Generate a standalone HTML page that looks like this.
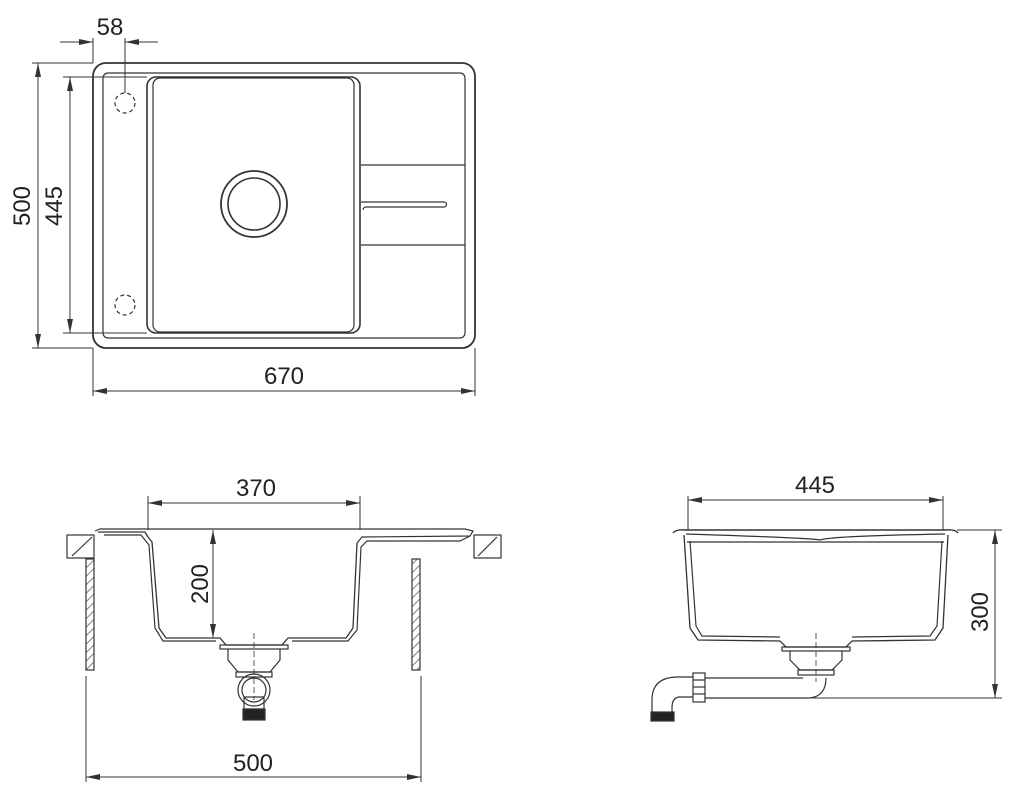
<!DOCTYPE html>
<html><head><meta charset="utf-8"><style>
html,body{margin:0;padding:0;background:#fff;}
svg{display:block;}
text{font-family:"Liberation Sans",sans-serif;fill:#222;font-size:24px;text-anchor:middle;}
</style></head><body>
<svg width="1012" height="796" viewBox="0 0 1012 796" xmlns="http://www.w3.org/2000/svg">
<defs>
<marker id="a" markerWidth="14" markerHeight="8" refX="14" refY="4" orient="auto-start-reverse" markerUnits="userSpaceOnUse"><path d="M0,1 L14,4 L0,7 Z" fill="#333"/></marker>
<pattern id="h" width="6" height="6" patternUnits="userSpaceOnUse" patternTransform="rotate(45)"><line x1="0" y1="0" x2="0" y2="6" stroke="#555" stroke-width="1.5"/></pattern>
</defs>
<g fill="none" stroke="#333" stroke-width="1.2">
<rect x="93" y="63" width="382" height="285" rx="13" stroke-width="1.8"/>
<rect x="103" y="73" width="362" height="265" rx="5"/>
<rect x="147" y="77" width="213" height="256" rx="9" stroke-width="1.6"/>
<rect x="153" y="78" width="201" height="254" rx="7"/>
<circle cx="254" cy="204" r="33" stroke-width="1.8"/>
<circle cx="254" cy="204" r="26" stroke-width="1.6"/>
<line x1="361" y1="165" x2="465" y2="165"/>
<line x1="361" y1="245" x2="465" y2="245"/>
<path d="M361,202 H444 a2.5,2.5 0 0 1 0,5 H366 a3,3 0 0 0 -3,3"/>
<circle cx="125" cy="103" r="10" stroke-dasharray="4,3"/>
<circle cx="125" cy="305" r="10" stroke-dasharray="4,3"/>
<g stroke-width="1">
<line x1="60" y1="42" x2="93" y2="42" marker-end="url(#a)"/>
<line x1="158" y1="42" x2="125" y2="42" marker-end="url(#a)"/>
<line x1="93" y1="38" x2="93" y2="63"/>
<line x1="125" y1="38" x2="125" y2="93"/>
<line x1="38" y1="63" x2="38" y2="348" marker-start="url(#a)" marker-end="url(#a)"/>
<line x1="70" y1="77" x2="70" y2="333" marker-start="url(#a)" marker-end="url(#a)"/>
<line x1="32" y1="63" x2="93" y2="63"/>
<line x1="32" y1="348" x2="93" y2="348"/>
<line x1="63" y1="77" x2="147" y2="77"/>
<line x1="63" y1="333" x2="147" y2="333"/>
<line x1="93" y1="348" x2="93" y2="396"/>
<line x1="475" y1="348" x2="475" y2="396"/>
<line x1="93" y1="391" x2="475" y2="391" marker-start="url(#a)" marker-end="url(#a)"/>
</g>
<g stroke-width="1">
<line x1="148" y1="496" x2="148" y2="530"/>
<line x1="360" y1="496" x2="360" y2="530"/>
<line x1="148" y1="503" x2="360" y2="503" marker-start="url(#a)" marker-end="url(#a)"/>
<line x1="213" y1="530" x2="213" y2="638" marker-start="url(#a)" marker-end="url(#a)"/>
<line x1="86" y1="676" x2="86" y2="782"/>
<line x1="421" y1="676" x2="421" y2="782"/>
<line x1="86" y1="777" x2="421" y2="777" marker-start="url(#a)" marker-end="url(#a)"/>
</g>
<rect x="67" y="535" width="27" height="23"/>
<line x1="72" y1="556" x2="92" y2="537"/>
<rect x="474" y="535" width="27" height="23"/>
<line x1="478" y1="556" x2="497" y2="537"/>
<rect x="86" y="559" width="8" height="111" fill="url(#h)"/>
<rect x="412" y="559" width="8" height="111" fill="url(#h)"/>
<path d="M95,531 L100,529 H465 L473,531 L470,536 L362,537 L357,543"/>
<path d="M98,532 H145 L148,537 L152,542 L159,628 L166,638 L220,638 L226,645 L282,645 L288,638 L346,638 L353,628 L357,543" stroke-width="1.3"/>
<path d="M104,535 H141 L145,540 L149,545 L155,628 L163,641 L216,641"/>
<path d="M292,641 L348,641 L357,630 L361,547 L367,541 L460,541 L470,536"/>
<rect x="220" y="645" width="68" height="4"/>
<path d="M228,649 V660 L238,672 H270 L280,660 V649"/>
<rect x="236" y="672" width="36" height="5"/>
<circle cx="254" cy="690" r="16"/>
<circle cx="254" cy="690" r="12"/>
<rect x="244" y="697" width="20" height="12"/>
<rect x="243" y="709" width="22" height="11" fill="#222"/>
<line x1="254" y1="633" x2="254" y2="700" stroke-dasharray="6,3" stroke-width="0.8"/>
<g stroke-width="1">
<line x1="688" y1="496" x2="688" y2="530"/>
<line x1="943" y1="496" x2="943" y2="530"/>
<line x1="688" y1="500" x2="943" y2="500" marker-start="url(#a)" marker-end="url(#a)"/>
<line x1="957" y1="530" x2="1002" y2="530"/>
<line x1="812" y1="698" x2="1002" y2="698"/>
<line x1="995" y1="530" x2="995" y2="698" marker-start="url(#a)" marker-end="url(#a)"/>
</g>
<path d="M673,533 Q676,529 686,530 H945 Q955,529 958,533" stroke-width="1.4"/>
<path d="M686,534 Q812,538 820,540 Q830,536 945,534"/>
<line x1="687" y1="542" x2="944" y2="542"/>
<path d="M684,535 L690,628 L698,640 L780,641 L786,647 L846,647 L852,641 L935,640 L943,628 L948,535" stroke-width="1.3"/>
<path d="M690,541 L696,626 L702,636 L780,637"/>
<path d="M852,637 L930,636 L937,626 L942,541"/>
<rect x="782" y="647" width="68" height="4"/>
<path d="M790,651 V660 L800,670 H832 L842,660 V651"/>
<rect x="798" y="670" width="36" height="5"/>
<path d="M705,678 H803 M705,698 H810 Q826,696 826,678"/>
<rect x="693" y="673" width="12" height="29"/>
<line x1="693" y1="680" x2="705" y2="680"/><line x1="693" y1="687" x2="705" y2="687"/><line x1="693" y1="694" x2="705" y2="694"/>
<path d="M693,677 H678 Q652,677 652,700 V712 M693,697 H680 Q672,697 672,708 V712"/>
<rect x="651" y="712" width="23" height="9" fill="#222"/>
<line x1="816" y1="633" x2="816" y2="682" stroke-dasharray="6,3" stroke-width="0.8"/>
</g>
<text x="110" y="35">58</text>
<text transform="translate(30,206) rotate(-90)">500</text>
<text transform="translate(62,206) rotate(-90)">445</text>
<text x="284" y="384">670</text>
<text x="256" y="496">370</text>
<text transform="translate(208,584) rotate(-90)">200</text>
<text x="253" y="771">500</text>
<text x="815" y="493">445</text>
<text transform="translate(988,612) rotate(-90)">300</text>
</svg>
</body></html>
